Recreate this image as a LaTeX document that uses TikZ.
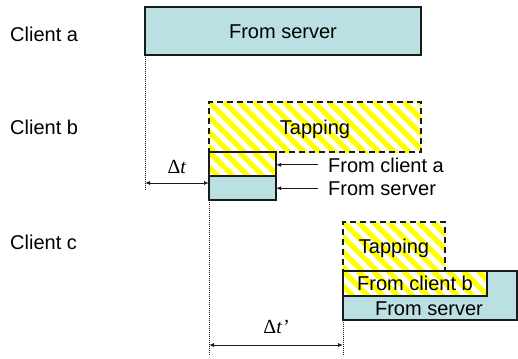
\documentclass[tikz,border=0pt]{standalone}
\usepackage{fontspec}
\setmainfont{Liberation Sans}
\newfontfamily\timesf{Liberation Serif}
\usetikzlibrary{arrows.meta}
\definecolor{srvblue}{HTML}{BBE0E3}
\definecolor{hatchyel}{HTML}{FFFF00}
\definecolor{edge}{HTML}{1A1A1A}
\begin{document}
\begin{tikzpicture}[x=1pt,y=-1pt,
  font=\fontsize{20}{24}\selectfont,
  box/.style={draw=edge, line width=1.3pt, anchor=north west, inner sep=0pt, outer sep=0pt, text height=14.3pt, text depth=0pt},
  srv/.style={box, fill=srvblue},
  hatch/.style={box, fill=white, path picture={
      \foreach \s in {-120,-105,...,330}{
        \draw[hatchyel, solid, line width=5.3pt] ([xshift=\s pt]path picture bounding box.north west) -- ++(140pt,-140pt);}}},
  tap/.style={hatch, dash pattern=on 6pt off 4pt},
  lbl/.style={anchor=base west, inner sep=0pt},
  dotline/.style={draw=edge, line width=1pt, dash pattern=on 1pt off 1pt},
  arr/.style={draw=edge, line width=0.9pt, -{Latex[length=5pt,width=4pt]}},
  darr/.style={draw=edge, line width=0.9pt, {Latex[length=5pt,width=4pt]}-{Latex[length=5pt,width=4pt]}}
]
\useasboundingbox (0,0) rectangle (518,358);

% row labels
\node[lbl] (ca) at (10,42) {Client a};
\node[lbl] (cb) at (10,135) {Client b};
\node[lbl] (cc) at (10,249) {Client c};

% client a
\node[srv, minimum width=276pt, minimum height=48pt] (a) at (145,7) {From server};

% client b
\node[tap, minimum width=212pt, minimum height=50pt] (tb) at (209,102) {Tapping};
\node[hatch, minimum width=67pt, minimum height=24pt] (hb) at (209,152) {};
\node[srv, minimum width=67pt, minimum height=24pt] (sb) at (209,176) {};
\node[lbl] (la) at (328,172) {From client a};
\node[lbl] (ls) at (328,195) {From server};
\draw[arr] ([xshift=-10pt]la.west) -- (la.west -| hb.east);
\draw[arr] ([xshift=-10pt]ls.west) -- (ls.west -| sb.east);

% client c
\node[tap, minimum width=102pt, minimum height=49pt] (tc) at (343,222) {Tapping};
\node[srv, minimum width=174pt, minimum height=49pt] (sc) at (343,271) {};
\node[hatch, minimum width=144pt, minimum height=25pt] (hc) at (343,271) {From client b};
\node[anchor=base, inner sep=0pt] (sct) at (429,315) {From server};

% dotted guides
\coordinate (d1) at (145,190);
\coordinate (d2) at (209,356);
\coordinate (d3) at (343,356);
\draw[dotline] ([yshift=-2pt]a.south west) -- (d1);
\draw[dotline] (sb.south west) -- (d2);
\draw[dotline] (sc.south west) -- (d3);

% delta t arrows
\coordinate (t1) at (145,183);
\coordinate (t2) at (209,183);
\draw[darr] (t1) -- (t2);
\node (dtl) at (177,167) {\timesf Δ\textit{t}};
\coordinate (u1) at (209,345);
\coordinate (u2) at (343,345);
\draw[darr] (u1) -- (u2);
\node (dtl2) at (276,327) {\timesf Δ\textit{t’}};
\end{tikzpicture}
\end{document}
